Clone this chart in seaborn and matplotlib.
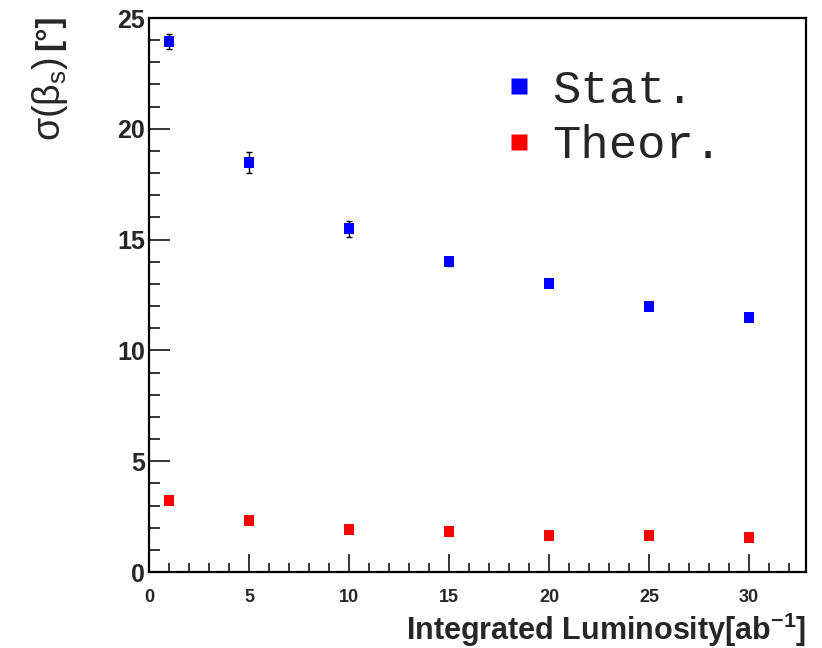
import matplotlib
matplotlib.use("Agg")
import matplotlib.pyplot as plt
from matplotlib.ticker import MultipleLocator
from matplotlib.lines import Line2D
import seaborn as sns
import pandas as pd

# ---- data ----
luminosity = [1, 5, 10, 15, 20, 25, 30]
stat_vals = [23.96, 18.48, 15.48, 14.0, 13.0, 12.0, 11.5]
stat_errs = [0.34, 0.47, 0.37, 0.18, 0.15, 0.14, 0.12]
theor_vals = [3.24, 2.31, 1.93, 1.83, 1.64, 1.64, 1.55]
series_names = ["Stat.", "Theor."]
x_label = "Integrated Luminosity[ab$^{\\mathbf{-1}}$]"

sns.set_style("white")
plt.rcParams["font.family"] = ["Liberation Sans", "DejaVu Sans"]
plt.rcParams["mathtext.fontset"] = "custom"
plt.rcParams["mathtext.rm"] = "Liberation Sans"
plt.rcParams["mathtext.bf"] = "Liberation Sans:bold"
plt.rcParams["mathtext.it"] = "Liberation Sans"

df = pd.DataFrame({
    "x": luminosity * 2,
    "y": stat_vals + theor_vals,
    "series": [series_names[0]] * len(luminosity) + [series_names[1]] * len(luminosity),
})

W, H = 822, 648
fig = plt.figure(figsize=(W / 100, H / 100), dpi=100)
ax = fig.add_axes([149 / W, 1 - 572 / H, (806 - 149) / W, (572 - 18) / H])

palette = {series_names[0]: "#0000ff", series_names[1]: "#ff0000"}
ax.errorbar(luminosity, stat_vals, yerr=stat_errs, fmt="none", ecolor="black",
            elinewidth=1.0, capsize=2.2, capthick=1.0, zorder=2)
sns.scatterplot(data=df, x="x", y="y", hue="series", palette=palette, marker="s",
                s=62, edgecolor="none", linewidth=0, ax=ax, legend=False, zorder=3)

ax.set_xlim(0, 32.85)
ax.set_ylim(0, 25)
ax.xaxis.set_major_locator(MultipleLocator(5))
ax.xaxis.set_minor_locator(MultipleLocator(1))
ax.yaxis.set_major_locator(MultipleLocator(5))
ax.yaxis.set_minor_locator(MultipleLocator(1))
ax.tick_params(axis="x", which="major", direction="in", length=13, width=1.1,
               labelsize=13, pad=12, bottom=True, top=False, color="black")
ax.tick_params(axis="x", which="minor", direction="in", length=6.5, width=1.1,
               bottom=True, top=False, color="black")
ax.tick_params(axis="y", which="major", direction="in", length=15, width=1.1,
               labelsize=18, pad=3, left=True, right=False, color="black")
ax.tick_params(axis="y", which="minor", direction="in", length=8, width=1.1,
               left=True, right=False, color="black")
for lab in ax.get_xticklabels() + ax.get_yticklabels():
    lab.set_fontweight("bold")
for sp in ax.spines.values():
    sp.set_color("black")
    sp.set_linewidth(1.6)
ax.set_xlabel("")
ax.set_ylabel("")

# x axis title (right aligned)
fig.text(806 / W, 1 - 630 / H, x_label, ha="right", va="center",
         fontsize=22, fontweight="bold")

# y axis title
fig.text(50 / W, 1 - 15 / H, "[°]", rotation=90, ha="center", va="top",
         fontsize=24, fontweight="bold")
fig.text(50 / W, 1 - 57 / H, r"$\mathrm{\sigma(\beta_{s})}$", rotation=90, ha="center",
         va="top", fontsize=27)

# legend
handles = [Line2D([0], [0], marker="s", linestyle="none", markersize=12,
                  markerfacecolor=palette[n], markeredgecolor="none") for n in series_names]
ax.legend(handles, series_names, loc="upper left", bbox_to_anchor=(472 / W, 1 - 45 / H),
          bbox_transform=fig.transFigure, frameon=False,
          prop={"family": "Liberation Mono", "size": 34}, handletextpad=0.2,
          handlelength=1.0, labelspacing=0.25, borderpad=0)

fig.savefig("out.png", dpi=100)
